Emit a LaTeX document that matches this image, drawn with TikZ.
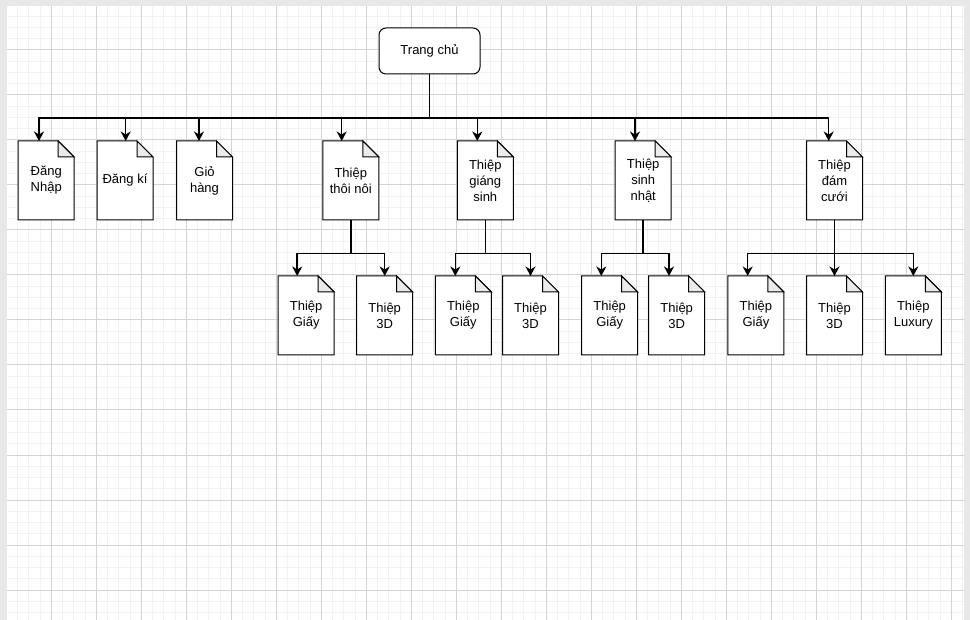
\documentclass[tikz,border=0pt]{standalone}
\usepackage{fontspec}
\setmainfont{Liberation Sans}
\usetikzlibrary{arrows.meta}

\begin{document}
\begin{tikzpicture}[x=1pt, y=-1pt,
page/.style={fill=black!9},
minor/.style={draw=black!5, line width=1pt},
major/.style={draw=black!17, line width=1pt},
home/.style={rectangle, rounded corners=7pt, draw, fill=white, line width=1pt, minimum width=101, minimum height=46, font=\fontsize{13}{16}\selectfont},
note/.style={rectangle, minimum width=56, minimum height=79, inner sep=0pt, outer sep=0pt, align=center, font=\fontsize{13}{16}\selectfont,
  path picture={\fill[white] (path picture bounding box.north west) -- ([xshift=-\fold]path picture bounding box.north east) -- ([yshift=-\fold]path picture bounding box.north east) |- (path picture bounding box.south west) -- cycle;}},
noteline/.style={line width=1pt, line join=miter},
link/.style={line width=1.5pt, -{Stealth[length=9.5pt, width=10pt, inset=3pt]}}]
\def\fold{16pt}
\useasboundingbox (0,0) rectangle (970,620);
% canvas
\fill[page] (0,0) rectangle (970,620);
\fill[white] (7,6) rectangle (964,620);
\foreach \i in {1,...,85} \draw[minor] ({6.3+11.25*\i},6) -- ({6.3+11.25*\i},620);
\foreach \j in {1,...,54} \draw[minor] (7,{5+11.25*\j}) -- (964,{5+11.25*\j});
\foreach \i in {1,...,21} \draw[major] ({6.3+45*\i},6) -- ({6.3+45*\i},620);
\foreach \j in {1,...,13} \draw[major] (7,{5+45*\j}) -- (964,{5+45*\j});
% home
\node[home] (root) at (429.5,51) {Trang chủ};
\coordinate (bus) at (429.5,118);
% first level
\node[note] (dn) at (46.2,180.5) {Đăng\\Nhập};
\node[note] (dk) at (125,180.5) {Đăng kí};
\node[note] (gh) at (204.5,180.5) {Giỏ\\hàng};
\node[note] (tn) at (350.8,180.5) {Thiệp\\thôi nôi};
\node[note] (gs) at (485.3,180.5) {Thiệp\\giáng\\sinh};
\node[note] (sn) at (643.2,180.5) {Thiệp\\sinh\\nhật};
\node[note] (dc) at (834.5,180.5) {Thiệp\\đám\\cưới};
% second level
\node[note] (tng) at (306.2,315.5) {Thiệp\\Giấy};
\node[note] (tn3) at (384.7,315.5) {Thiệp\\3D};
\node[note] (gsg) at (463.3,315.5) {Thiệp\\Giấy};
\node[note] (gs3) at (530.5,315.5) {Thiệp\\3D};
\node[note] (sng) at (609.7,315.5) {Thiệp\\Giấy};
\node[note] (sn3) at (676.7,315.5) {Thiệp\\3D};
\node[note] (dcg) at (755.9,315.5) {Thiệp\\Giấy};
\node[note] (dc3) at (834.5,315.5) {Thiệp\\3D};
\node[note] (dcl) at (913.3,315.5) {Thiệp\\Luxury};
% folded corners
\foreach \n in {dn,dk,gh,tn,gs,sn,dc,tng,tn3,gsg,gs3,sng,sn3,dcg,dc3,dcl} {
  \draw[noteline] (\n.north west) -- ([xshift=-\fold]\n.north east) -- ([yshift=-\fold]\n.north east) |- (\n.south west) -- cycle;
  \filldraw[noteline, fill=black!8] ([xshift=-\fold]\n.north east) |- ([yshift=-\fold]\n.north east) -- cycle;
}
% links
\foreach \c/\dx in {dn/-7.2, dk/0.7, gh/-5.5, tn/-9.1, gs/-8, sn/-8.2, dc/-5.8}
  \draw[link] (root.south) -- (bus) -| ([xshift=\dx pt]\c.north);
\foreach \p/\c/\dx in {tn/tng/-9, tn/tn3/0, gs/gsg/-8, gs/gs3/0, sn/sng/-8.4, sn/sn3/-7.7, dc/dcg/-8.2, dc/dc3/0, dc/dcl/0}
  \draw[link] (\p.south) -- ++(0,33.5) -| ([xshift=\dx pt]\c.north);
\end{tikzpicture}
\end{document}
